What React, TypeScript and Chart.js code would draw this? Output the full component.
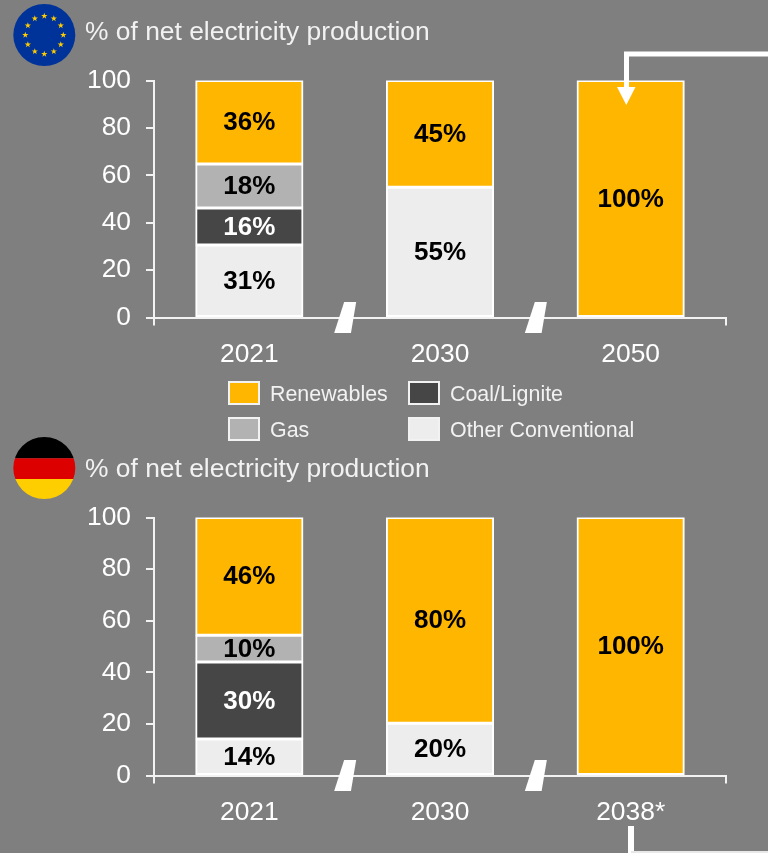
import React, { useEffect, useRef } from "react";
import { Chart, registerables } from "chart.js";

Chart.register(...registerables);

const FONT = '"Liberation Sans", Arial, sans-serif';
const BG = "#7F7F7F";
const RENEW = "#FFB600";
const GAS = "#B2B2B2";
const COAL = "#464646";
const OTHER = "#EDEDED";

const euYears = ["2021", "2030", "2050"];
const euOther = [30.6, 55, null];
const euCoal = [15.6, null, null];
const euGas = [18.6, null, null];
const euRenew = [35.2, 45, 100];
const euOtherLabels = ["31%", "55%", ""];
const euCoalLabels = ["16%", "", ""];
const euGasLabels = ["18%", "", ""];
const euRenewLabels = ["36%", "45%", "100%"];

const deYears = ["2021", "2030", "2038*"];
const deOther = [14.1, 20.3, null];
const deCoal = [29.9, null, null];
const deGas = [10.4, null, null];
const deRenew = [45.6, 79.7, 100];
const deOtherLabels = ["14%", "20%", ""];
const deCoalLabels = ["30%", "", ""];
const deGasLabels = ["10%", "", ""];
const deRenewLabels = ["46%", "80%", "100%"];

const yTicks = [0, 20, 40, 60, 80, 100];
const title = "% of net electricity production";
const legendItems = [
  { name: "Renewables", color: RENEW, x: 229, y: 381, tx: 270 },
  { name: "Coal/Lignite", color: COAL, x: 409, y: 381, tx: 450 },
  { name: "Gas", color: GAS, x: 229, y: 417, tx: 270 },
  { name: "Other Conventional", color: OTHER, x: 409, y: 417, tx: 450 },
];

const makePlugin = () => ({
  id: "annotations",
  afterDatasetsDraw(chart: any) {
    const ctx = chart.ctx;
    ctx.save();
    ctx.textAlign = "center";
    ctx.textBaseline = "middle";
    ctx.font = `bold 26px ${FONT}`;
    chart.data.datasets.forEach((ds: any, i: number) => {
      const meta = chart.getDatasetMeta(i);
      meta.data.forEach((bar: any, j: number) => {
        const t = ds.valueLabels[j];
        if (!t) return;
        ctx.fillStyle = ds.labelColor;
        ctx.fillText(t, bar.x, (bar.y + bar.base) / 2 + 1);
      });
    });
    const x = chart.scales.x;
    const axisY = chart.chartArea.bottom;
    ctx.fillStyle = "#FFFFFF";
    [0, 1].forEach((i) => {
      const bx = (x.getPixelForTick(i) + x.getPixelForTick(i + 1)) / 2;
      ctx.beginPath();
      ctx.moveTo(bx - 0.5, axisY - 15.5);
      ctx.lineTo(bx + 11.5, axisY - 15.5);
      ctx.lineTo(bx + 6.3, axisY + 15.5);
      ctx.lineTo(bx - 10.5, axisY + 15.5);
      ctx.closePath();
      ctx.fill();
    });
    ctx.restore();
  },
});

type PanelProps = {
  top: number;
  height: number;
  xHeight: number;
  years: string[];
  other: (number | null)[];
  coal: (number | null)[];
  gas: (number | null)[];
  renew: (number | null)[];
  otherLabels: string[];
  coalLabels: string[];
  gasLabels: string[];
  renewLabels: string[];
};

function Panel(p: PanelProps) {
  const ref = useRef<HTMLCanvasElement>(null);
  useEffect(() => {
    const mk = (label: string, data: any, color: string, valueLabels: string[], labelColor: string) => ({
      label,
      data,
      backgroundColor: color,
      borderColor: "#FFFFFF",
      borderWidth: 2,
      borderSkipped: false,
      inflateAmount: 0.5,
      valueLabels,
      labelColor,
      barPercentage: 0.562,
      categoryPercentage: 1,
    });
    const chart = new Chart(ref.current as HTMLCanvasElement, {
      type: "bar",
      data: {
        labels: p.years,
        datasets: [
          mk("Other Conventional", p.other, OTHER, p.otherLabels, "#000000"),
          mk("Coal/Lignite", p.coal, COAL, p.coalLabels, "#FFFFFF"),
          mk("Gas", p.gas, GAS, p.gasLabels, "#000000"),
          mk("Renewables", p.renew, RENEW, p.renewLabels, "#000000"),
        ] as any,
      },
      options: {
        responsive: false,
        animation: false,
        layout: { padding: { top: 20.5, right: 42, left: 0, bottom: 0 } },
        plugins: { legend: { display: false }, tooltip: { enabled: false } },
        scales: {
          x: {
            stacked: true,
            afterFit: (s: any) => { s.height = p.xHeight; },
            border: { color: "#F2F2F2", width: 2 },
            grid: { drawOnChartArea: false, drawTicks: true, tickLength: 8, color: "#F2F2F2", lineWidth: 2, offset: true },
            ticks: { color: "#FFFFFF", font: { family: FONT, size: 26.4 }, padding: 13, maxRotation: 0 },
          },
          y: {
            stacked: true,
            min: 0,
            max: 100,
            afterFit: (s: any) => { s.width = 154; s.paddingTop = 0; s.paddingBottom = 0; },
            afterBuildTicks: (s: any) => { s.ticks = yTicks.map((value) => ({ value })); },
            border: { color: "#F2F2F2", width: 2 },
            grid: { drawOnChartArea: false, drawTicks: true, tickLength: 8, color: "#F2F2F2", lineWidth: 2 },
            ticks: { color: "#FFFFFF", font: { family: FONT, size: 26.4 }, padding: 15 },
          },
        },
      } as any,
      plugins: [makePlugin()],
    });
    return () => chart.destroy();
  }, []);
  return (
    <canvas
      ref={ref}
      width={768}
      height={p.height}
      style={{ position: "absolute", left: 0, top: p.top, display: "block" }}
    />
  );
}

function EuFlag() {
  const cx = 44.3, cy = 35, ring = 19;
  const stars = Array.from({ length: 12 }, (_, i) => {
    const a = (i * Math.PI) / 6;
    const sx = cx + ring * Math.sin(a);
    const sy = cy - ring * Math.cos(a);
    const pts = Array.from({ length: 10 }, (_, k) => {
      const r = k % 2 === 0 ? 3.3 : 1.3;
      const b = (k * Math.PI) / 5;
      return `${sx + r * Math.sin(b)},${sy - r * Math.cos(b)}`;
    }).join(" ");
    return <polygon key={i} points={pts} fill="#FFCC00" />;
  });
  return (
    <>
      <circle cx={cx} cy={cy} r={31} fill="#003399" />
      {stars}
    </>
  );
}

function DeFlag() {
  return (
    <>
      <defs>
        <clipPath id="deClip">
          <circle cx={44.3} cy={468} r={31} />
        </clipPath>
      </defs>
      <g clipPath="url(#deClip)">
        <rect x={13} y={437} width={63} height={21.3} fill="#000000" />
        <rect x={13} y={458.3} width={63} height={20.7} fill="#DD0000" />
        <rect x={13} y={479} width={63} height={21} fill="#FFCE00" />
      </g>
    </>
  );
}

const titleStyle = (top: number): React.CSSProperties => ({
  position: "absolute",
  left: 85,
  top,
  font: `26.4px ${FONT}`,
  lineHeight: "30px",
  color: "#F2F2F2",
  whiteSpace: "nowrap",
});

export default function App() {
  useEffect(() => {
    document.body.style.margin = "0";
    document.body.style.background = BG;
  }, []);
  return (
    <div style={{ position: "fixed", left: 0, top: 0, width: 768, height: 853, background: BG, overflow: "hidden" }}>
      <Panel
        top={60}
        height={320}
        xHeight={62.5}
        years={euYears}
        other={euOther}
        coal={euCoal}
        gas={euGas}
        renew={euRenew}
        otherLabels={euOtherLabels}
        coalLabels={euCoalLabels}
        gasLabels={euGasLabels}
        renewLabels={euRenewLabels}
      />
      <Panel
        top={497}
        height={333}
        xHeight={54.5}
        years={deYears}
        other={deOther}
        coal={deCoal}
        gas={deGas}
        renew={deRenew}
        otherLabels={deOtherLabels}
        coalLabels={deCoalLabels}
        gasLabels={deGasLabels}
        renewLabels={deRenewLabels}
      />
      <svg width={768} height={853} style={{ position: "absolute", left: 0, top: 0, pointerEvents: "none" }}>
        <EuFlag />
        <DeFlag />
        <path d="M768 54 H626.5 V90" fill="none" stroke="#FFFFFF" strokeWidth={5} />
        <polygon points="617,87 635.5,87 626.3,105" fill="#FFFFFF" />
        <path d="M631 826 V853" fill="none" stroke="#FFFFFF" strokeWidth={6} />
        <path d="M631 852 H768" fill="none" stroke="#E8E8E8" strokeWidth={2} />
      </svg>
      <div style={titleStyle(16)}>{title}</div>
      <div style={titleStyle(453)}>{title}</div>
      {legendItems.map((it) => (
        <React.Fragment key={it.name}>
          <div
            style={{
              position: "absolute",
              left: it.x - 1,
              top: it.y,
              width: 28,
              height: 20,
              boxSizing: "content-box",
              background: it.color,
              border: "2px solid #F2F2F2",
            }}
          />
          <div
            style={{
              position: "absolute",
              left: it.tx,
              top: it.y,
              font: `21.4px ${FONT}`,
              lineHeight: "26px",
              color: "#F2F2F2",
              whiteSpace: "nowrap",
            }}
          >
            {it.name}
          </div>
        </React.Fragment>
      ))}
    </div>
  );
}
